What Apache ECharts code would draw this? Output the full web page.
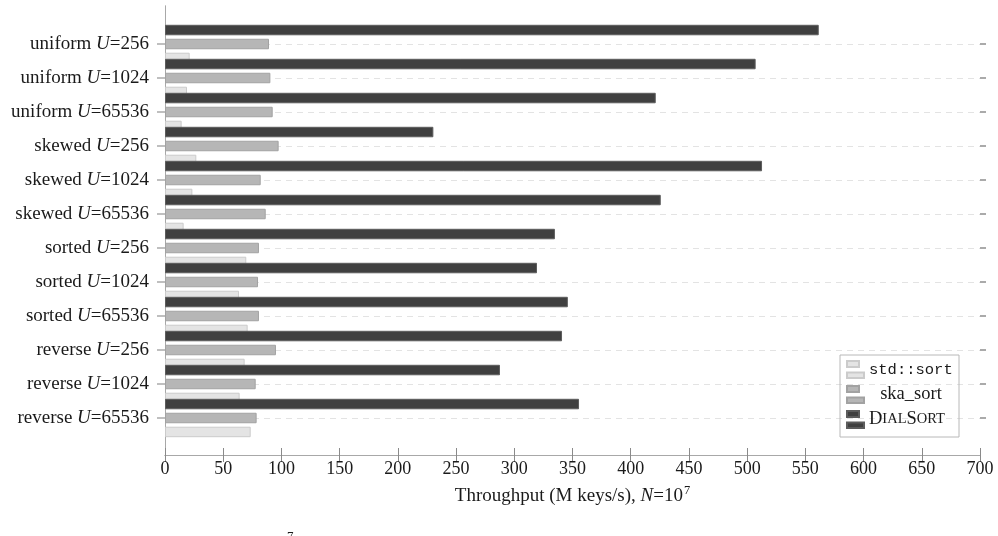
<!DOCTYPE html>
<html><head><meta charset="utf-8">
<script src="https://cdn.jsdelivr.net/npm/echarts@6/dist/echarts.min.js"></script>
<style>html,body{margin:0;padding:0;background:#fff}#c{width:998px;height:536px}</style>
</head><body><div id="c"></div>
<script>
const categories = ['uniform U=256','uniform U=1024','uniform U=65536','skewed U=256','skewed U=1024','skewed U=65536','sorted U=256','sorted U=1024','sorted U=65536','reverse U=256','reverse U=1024','reverse U=65536'];
const stdSort  = [21.2, 18.9, 14.3, 26.9, 23.5, 16.0, 69.8, 63.6, 71.0, 68.4, 64.1, 73.6];
const skaSort  = [89.3, 90.5, 92.5, 97.6, 82.2, 86.5, 80.7, 79.9, 80.7, 95.3, 77.9, 78.7];
const dialSort = [561.5, 507.3, 421.5, 230.5, 512.8, 425.8, 334.9, 319.5, 346.0, 341.0, 287.7, 355.6];
const xMin = 0, xMax = 700, xStep = 50;
const seriesNames = ['std::sort', 'ska_sort', 'DialSort'];

const SERIF = 'Liberation Serif';
const MONO = 'Liberation Mono';
const TXT = '#1a1a1a';
const frameColor = '#a8a8a8';

const chart = echarts.init(document.getElementById('c'), null, {renderer: 'canvas'});
const legendIcon = 'path://M0,0H12V6H0Z M0,11.5H17V17H0Z';

const option = {
  animation: false,
  backgroundColor: '#fff',
  grid: [
    {left: 165, right: 18, top: 6, bottom: 81},
    {left: 165, right: 18, top: 44, bottom: 118}
  ],
  legend: {
    left: 840, top: 355,
    orient: 'vertical',
    padding: [5, 6, 8, 6],
    itemWidth: 17, itemHeight: 17, itemGap: 6,
    borderColor: '#b8b8b8', borderWidth: 1,
    data: seriesNames.map(n => ({name: n, icon: legendIcon})),
    formatter: function (name) {
      if (name === 'std::sort') return '{m|std::sort}';
      if (name === 'ska_sort') return '{w|ska_sort}';
      return '{c|D}{s|IAL}{c|S}{s|ORT}';
    },
    textStyle: {
      color: TXT,
      rich: {
        m: {fontFamily: MONO, fontSize: 15.5, color: TXT, lineHeight: 17},
        w: {fontFamily: SERIF, fontSize: 18.5, color: TXT, width: 84, align: 'center', lineHeight: 17},
        c: {fontFamily: SERIF, fontSize: 18.5, color: TXT, lineHeight: 17},
        s: {fontFamily: SERIF, fontSize: 14.5, color: TXT, lineHeight: 17}
      }
    }
  },
  xAxis: [
    {
      gridIndex: 0, type: 'value', min: xMin, max: xMax, interval: xStep, position: 'bottom',
      axisLine: {show: true, lineStyle: {color: frameColor, width: 1}},
      axisTick: {show: true, inside: true, length: 7, lineStyle: {color: '#8a8a8a', width: 1}},
      axisLabel: {margin: 5, color: TXT, fontFamily: SERIF, fontSize: 18},
      splitLine: {show: false},
      name: 'Throughput (M keys/s), {i|N}=10{sup|7}',
      nameLocation: 'middle', nameGap: 29,
      nameTextStyle: {
        color: TXT, fontFamily: SERIF, fontSize: 19,
        rich: {
          i: {fontFamily: SERIF, fontSize: 19, fontStyle: 'italic', color: TXT},
          sup: {fontFamily: SERIF, fontSize: 12.5, color: TXT, padding: [0, 0, 11, 1]}
        }
      }
    },
    {
      gridIndex: 0, type: 'value', min: xMin, max: xMax, interval: xStep, position: 'top',
      axisLine: {show: true, lineStyle: {color: frameColor, width: 1}},
      axisTick: {show: true, inside: true, length: 7, lineStyle: {color: '#8a8a8a', width: 1}},
      axisLabel: {show: false},
      splitLine: {show: false}
    },
    {gridIndex: 1, type: 'value', min: xMin, max: xMax, show: false}
  ],
  yAxis: [
    {
      gridIndex: 0, type: 'value', min: 0, max: 1, position: 'left',
      axisLine: {show: true, lineStyle: {color: frameColor, width: 1}},
      axisTick: {show: false}, axisLabel: {show: false}, splitLine: {show: false}
    },
    {
      gridIndex: 0, type: 'value', min: 0, max: 1, position: 'right',
      axisLine: {show: true, lineStyle: {color: frameColor, width: 1}},
      axisTick: {show: false}, axisLabel: {show: false}, splitLine: {show: false}
    },
    {
      gridIndex: 1, type: 'category', data: categories, inverse: true, boundaryGap: false,
      position: 'left',
      axisLine: {show: false},
      axisTick: {show: true, interval: 0, length: 8, lineStyle: {color: '#aaaaaa', width: 1.5}},
      axisLabel: {
        interval: 0, margin: 16, color: TXT, fontFamily: SERIF, fontSize: 19,
        formatter: function (v) { return v.replace('U=', '{i|U}='); },
        rich: {
          i: {fontFamily: SERIF, fontSize: 19, fontStyle: 'italic', color: TXT}
        }
      },
      splitLine: {show: true, interval: 0, lineStyle: {color: '#e3e3e3', width: 1, type: [6, 5]}}
    },
    {
      gridIndex: 1, type: 'category', data: categories, inverse: true, boundaryGap: false,
      position: 'right',
      axisLine: {show: false},
      axisTick: {show: true, interval: 0, length: 6, lineStyle: {color: '#aaaaaa', width: 2}},
      axisLabel: {show: false},
      splitLine: {show: false}
    }
  ],
  series: [
    {
      name: 'DialSort', type: 'bar', xAxisIndex: 2, yAxisIndex: 2, data: dialSort,
      barWidth: 10.5, barGap: '33%', clip: false, z: 4,
      itemStyle: {color: '#404040', borderColor: '#5c5c5c', borderWidth: 1}
    },
    {
      name: 'ska_sort', type: 'bar', xAxisIndex: 2, yAxisIndex: 2, data: skaSort,
      barWidth: 10.5, barGap: '33%', clip: false, z: 3,
      itemStyle: {color: '#b6b6b6', borderColor: '#a2a2a2', borderWidth: 1}
    },
    {
      name: 'std::sort', type: 'bar', xAxisIndex: 2, yAxisIndex: 2, data: stdSort,
      barWidth: 10.5, barGap: '33%', clip: false, z: 2,
      itemStyle: {color: '#e4e4e4', borderColor: '#cbcbcb', borderWidth: 1}
    }
  ],
  graphic: [
    {type: 'text', left: 287, top: 530, style: {text: '7', font: '13px "Liberation Serif"', fill: TXT}}
  ]
};
chart.setOption(option);
</script>
</body></html>
